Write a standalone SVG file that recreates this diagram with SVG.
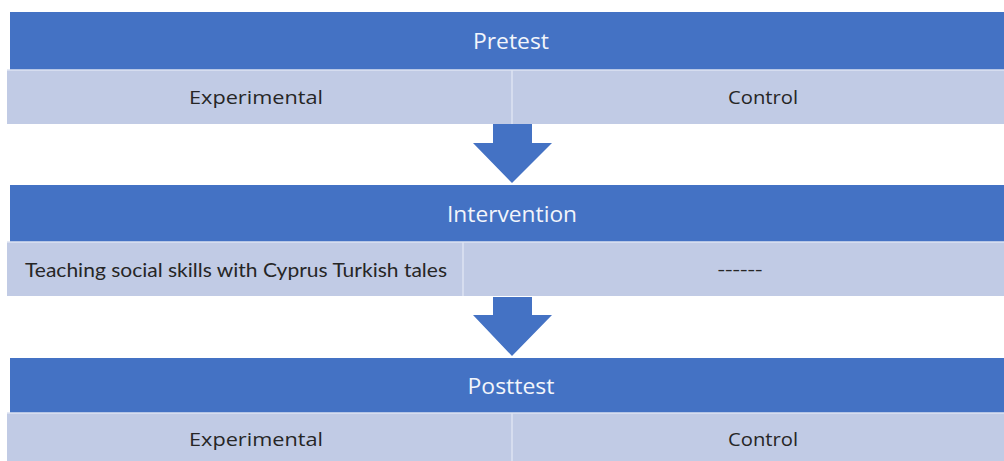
<svg xmlns="http://www.w3.org/2000/svg" width="1004" height="461" viewBox="0 0 1004 461">
<style>
.hdr{fill:#4472C4}
.sub{fill:#C1CBE5}
.div{stroke:#DDE3F2;stroke-width:1.5}
.ht{font-family:"Open Sans","Noto Sans",sans-serif;font-size:22px;fill:#F2F5FB;text-anchor:middle}
.st{font-family:"Open Sans","Noto Sans",sans-serif;font-size:19px;fill:#262626;text-anchor:middle}
.tt{font-family:Lato,"Open Sans",sans-serif;font-size:20px;fill:#262626}
.arr{fill:#4472C4}
</style>
<rect width="1004" height="461" fill="#FFFFFF"/>
<g id="pretest">
<rect class="hdr" x="10" y="12" width="994" height="58"/>
<text class="ht" x="511" y="49" textLength="76" lengthAdjust="spacingAndGlyphs">Pretest</text>
<rect class="sub" x="7" y="70" width="997" height="54"/>
<line class="div" x1="7" y1="70" x2="1004" y2="70"/>
<line class="div" x1="512" y1="70" x2="512" y2="124"/>
<text class="st" x="256" y="104" textLength="134" lengthAdjust="spacingAndGlyphs">Experimental</text>
<text class="st" x="763" y="104" textLength="70" lengthAdjust="spacingAndGlyphs">Control</text>
</g>
<g id="intervention">
<rect class="hdr" x="10" y="185" width="994" height="57"/>
<text class="ht" x="512" y="222" textLength="130" lengthAdjust="spacingAndGlyphs">Intervention</text>
<rect class="sub" x="7" y="242" width="997" height="54"/>
<line class="div" x1="7" y1="242" x2="1004" y2="242"/>
<line class="div" x1="463" y1="242" x2="463" y2="296"/>
<text class="tt" x="25" y="277" textLength="422" lengthAdjust="spacingAndGlyphs">Teaching social skills with Cyprus Turkish tales</text>
<text class="st" x="740" y="276" textLength="45" lengthAdjust="spacingAndGlyphs">------</text>
</g>
<g id="posttest">
<rect class="hdr" x="10" y="358" width="994" height="55"/>
<text class="ht" x="511" y="394" textLength="87" lengthAdjust="spacingAndGlyphs">Posttest</text>
<rect class="sub" x="7" y="413" width="997" height="48"/>
<line class="div" x1="7" y1="413" x2="1004" y2="413"/>
<line class="div" x1="512" y1="413" x2="512" y2="461"/>
<text class="st" x="256" y="446" textLength="134" lengthAdjust="spacingAndGlyphs">Experimental</text>
<text class="st" x="763" y="446" textLength="70" lengthAdjust="spacingAndGlyphs">Control</text>
</g>
<g id="connectors">
<polygon class="arr" points="493,124 532,124 532,143 552,143 512,183 473,143 493,143"/>
<polygon class="arr" points="493,297 532,297 532,315 552,315 512,356 473,315 493,315"/>
</g>
</svg>
